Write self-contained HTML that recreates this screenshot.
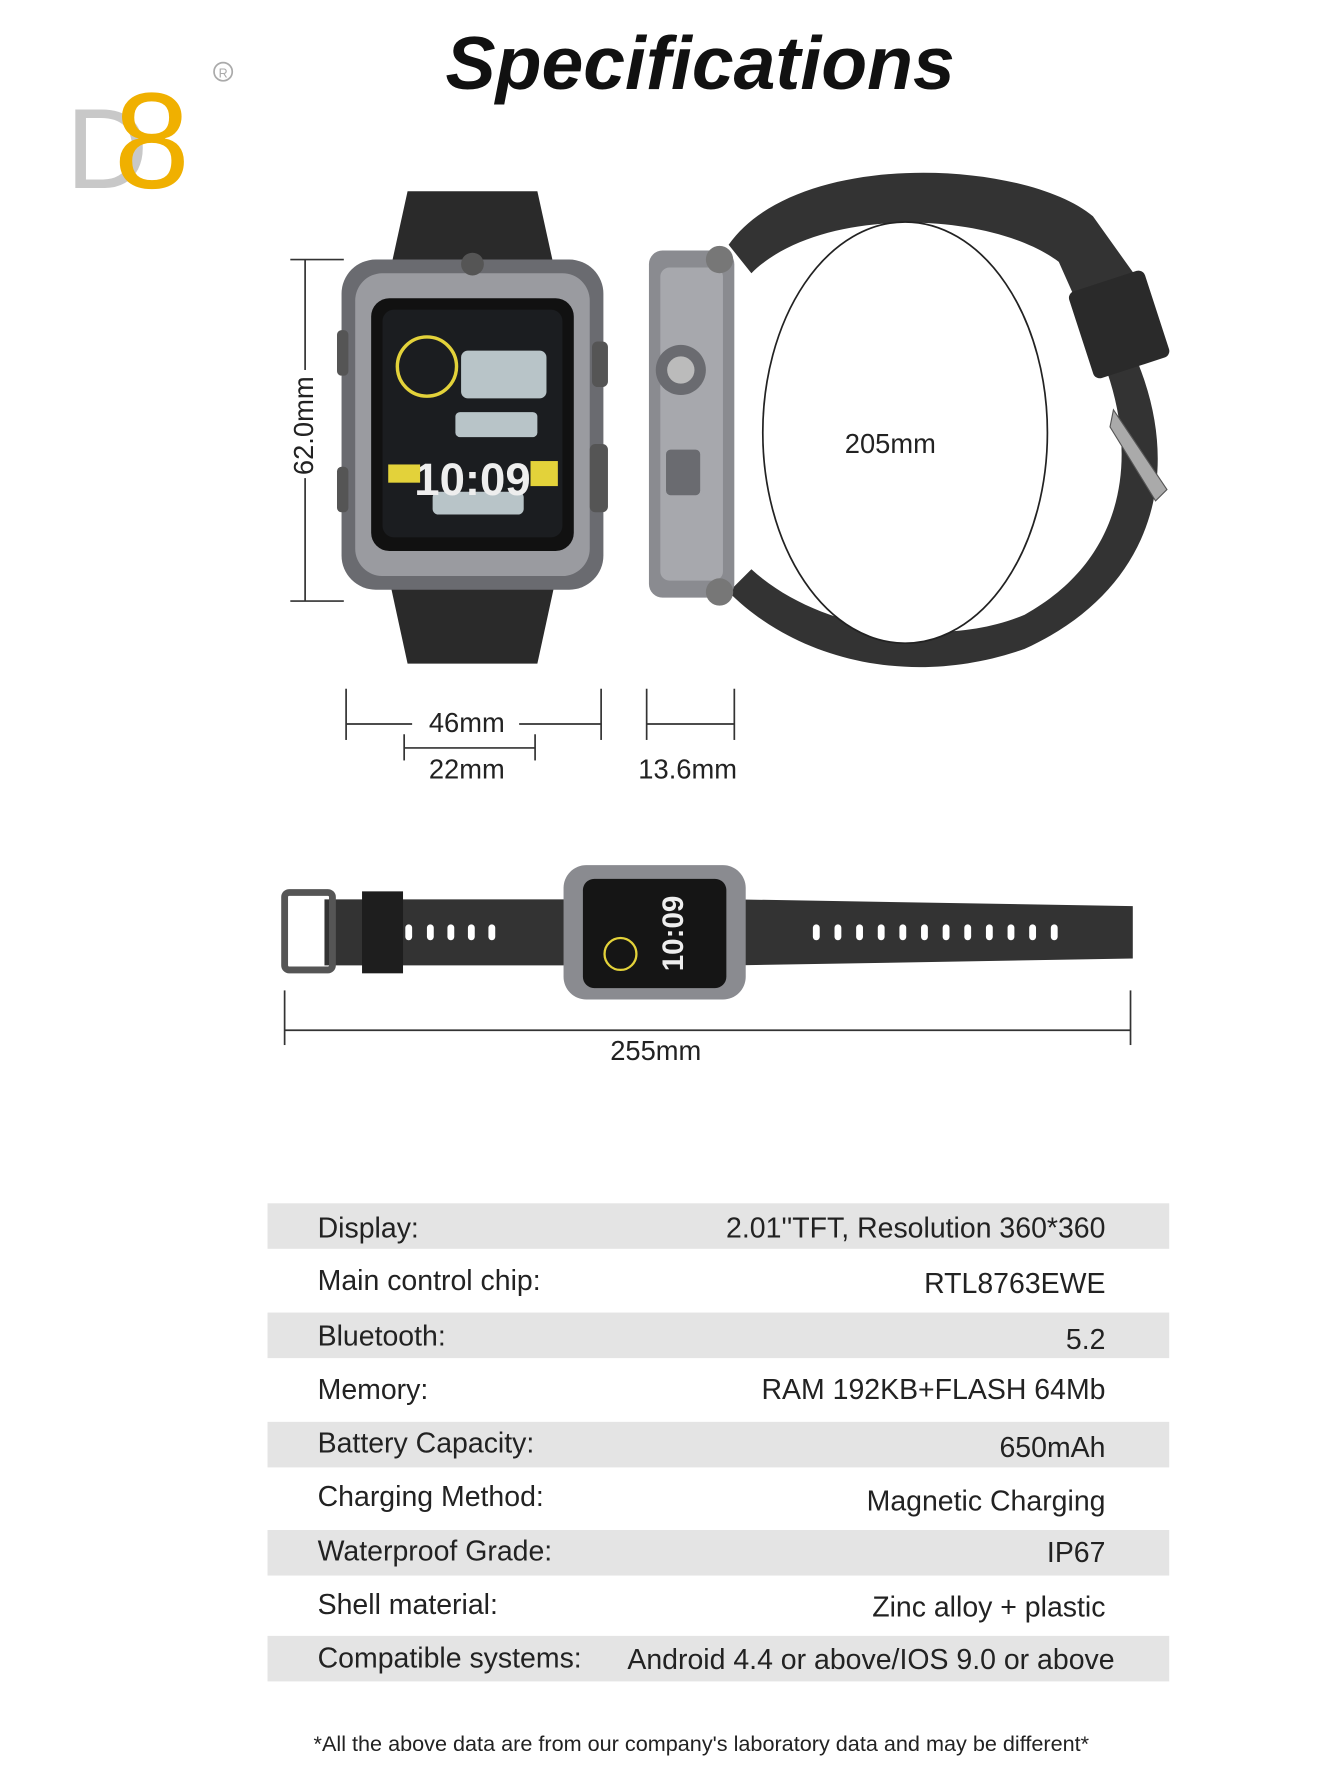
<!DOCTYPE html>
<html><head><meta charset="utf-8"><style>
html,body{margin:0;padding:0;background:#fff;}
svg{display:block;}
text{font-family:"Liberation Sans",sans-serif;}
</style></head><body>
<svg width="1340" height="1785" viewBox="0 0 1177 1568" preserveAspectRatio="none" xmlns="http://www.w3.org/2000/svg">
<rect width="1200" height="1600" fill="#fff"/>
<!-- Title -->
<text x="615" y="78" font-size="66" font-style="italic" font-weight="bold" text-anchor="middle" fill="#111">Specifications</text>
<!-- Logo -->
<text x="58" y="165" font-size="100" font-family="Liberation Serif" fill="#c8c8c8">D</text>
<text x="100" y="165" font-size="120" font-family="Liberation Serif" fill="#f0b000">8</text>
<circle cx="196" cy="63" r="8" fill="none" stroke="#aaa" stroke-width="1.5"/>
<text x="196" y="68" font-size="11" text-anchor="middle" fill="#aaa">R</text>

<!-- Front watch -->
<path d="M358 168 L472 168 L490 250 L340 250 Z" fill="#2a2a2a"/>
<path d="M340 500 L490 500 L472 583 L358 583 Z" fill="#2a2a2a"/>
<rect x="300" y="228" width="230" height="290" rx="30" fill="#6a6b70"/>
<rect x="312" y="240" width="206" height="266" rx="24" fill="#9a9ba0"/>
<rect x="326" y="262" width="178" height="222" rx="16" fill="#111"/>
<rect x="336" y="272" width="158" height="200" rx="10" fill="#1b1d20"/>
<circle cx="375" cy="322" r="26" fill="none" stroke="#e3d23a" stroke-width="3"/>
<rect x="405" y="308" width="75" height="42" rx="6" fill="#b8c4c8"/>
<rect x="400" y="362" width="72" height="22" rx="4" fill="#b8c4c8"/>
<rect x="380" y="432" width="80" height="20" rx="5" fill="#b8c4c8"/>
<text x="415" y="435" font-size="40" font-weight="bold" text-anchor="middle" fill="#eee">10:09</text>
<rect x="341" y="408" width="28" height="16" fill="#e3d23a"/>
<rect x="466" y="405" width="24" height="22" fill="#e3d23a"/>
<circle cx="415" cy="232" r="10" fill="#555"/>
<rect x="520" y="300" width="14" height="40" rx="5" fill="#555"/>
<rect x="518" y="390" width="16" height="60" rx="5" fill="#555"/>
<rect x="296" y="290" width="10" height="40" rx="4" fill="#555"/>
<rect x="296" y="410" width="10" height="40" rx="4" fill="#555"/>

<!-- 62mm dimension -->
<line x1="268" y1="228" x2="268" y2="528" stroke="#333" stroke-width="1.5"/>
<line x1="255" y1="228" x2="302" y2="228" stroke="#333" stroke-width="1.5"/>
<line x1="255" y1="528" x2="302" y2="528" stroke="#333" stroke-width="1.5"/>
<rect x="252" y="325" width="30" height="95" fill="#fff"/>
<text transform="translate(275,374) rotate(-90)" font-size="24" text-anchor="middle" fill="#222">62.0mm</text>

<!-- Side watch and band -->
<path d="M640 215 C700 130 900 140 960 190 L1010 260 L1000 320 C1040 420 1010 520 900 570 C800 605 700 580 640 520 L660 500 C720 555 830 570 900 540 C990 490 1000 400 970 320 L930 230 C870 185 720 180 660 240 Z" fill="#333"/>
<ellipse cx="795" cy="380" rx="125" ry="185" fill="#fff" stroke="#222" stroke-width="1.5"/>
<rect x="570" y="220" width="75" height="305" rx="12" fill="#8a8b90"/>
<rect x="580" y="235" width="55" height="275" rx="8" fill="#a7a8ad"/>
<circle cx="598" cy="325" r="22" fill="#6a6b70"/><circle cx="598" cy="325" r="12" fill="#bbb"/>
<rect x="585" y="395" width="30" height="40" rx="4" fill="#6a6b70"/>
<circle cx="632" cy="228" r="12" fill="#777"/><circle cx="632" cy="520" r="12" fill="#777"/>
<rect x="948" y="245" width="70" height="80" rx="6" fill="#2a2a2a" transform="rotate(-18 983 285)"/>
<path d="M978 360 L1025 430 L1015 440 L975 375 Z" fill="#aaa" stroke="#555"/>
<text x="782" y="398" font-size="24" text-anchor="middle" fill="#222">205mm</text>

<!-- 46 / 22 / 13.6 dims -->
<g stroke="#333" stroke-width="1.5">
<line x1="304" y1="605" x2="304" y2="650"/><line x1="528" y1="605" x2="528" y2="650"/>
<line x1="304" y1="636" x2="362" y2="636"/><line x1="456" y1="636" x2="528" y2="636"/>
<line x1="355" y1="645" x2="355" y2="668"/><line x1="470" y1="645" x2="470" y2="668"/>
<line x1="355" y1="657" x2="470" y2="657"/>
<line x1="568" y1="605" x2="568" y2="650"/><line x1="645" y1="605" x2="645" y2="650"/>
<line x1="568" y1="636" x2="645" y2="636"/>
</g>
<text x="410" y="643" font-size="24" text-anchor="middle" fill="#222">46mm</text>
<text x="410" y="684" font-size="24" text-anchor="middle" fill="#222">22mm</text>
<text x="604" y="684" font-size="24" text-anchor="middle" fill="#222">13.6mm</text>

<!-- Flat watch -->
<path d="M285 790 L505 790 L505 848 L285 848 Z" fill="#333"/>
<path d="M645 790 L995 796 L995 842 L645 848 Z" fill="#333"/>
<rect x="250" y="784" width="42" height="68" rx="4" fill="none" stroke="#555" stroke-width="6"/>
<rect x="318" y="783" width="36" height="72" fill="#1e1e1e"/>
<g fill="#fff">
<rect x="356" y="812" width="6" height="14" rx="3"/><rect x="375" y="812" width="6" height="14" rx="3"/><rect x="393" y="812" width="6" height="14" rx="3"/><rect x="411" y="812" width="6" height="14" rx="3"/><rect x="429" y="812" width="6" height="14" rx="3"/>
<rect x="714" y="812" width="6" height="14" rx="3"/><rect x="733" y="812" width="6" height="14" rx="3"/><rect x="752" y="812" width="6" height="14" rx="3"/><rect x="771" y="812" width="6" height="14" rx="3"/><rect x="790" y="812" width="6" height="14" rx="3"/><rect x="809" y="812" width="6" height="14" rx="3"/><rect x="828" y="812" width="6" height="14" rx="3"/><rect x="847" y="812" width="6" height="14" rx="3"/><rect x="866" y="812" width="6" height="14" rx="3"/><rect x="885" y="812" width="6" height="14" rx="3"/><rect x="904" y="812" width="6" height="14" rx="3"/><rect x="923" y="812" width="6" height="14" rx="3"/>
</g>
<rect x="495" y="760" width="160" height="118" rx="20" fill="#8a8b90"/>
<rect x="512" y="772" width="126" height="96" rx="10" fill="#151515"/>
<text transform="translate(600,820) rotate(-90)" font-size="26" font-weight="bold" text-anchor="middle" fill="#eee">10:09</text>
<circle cx="545" cy="838" r="14" fill="none" stroke="#e3d23a" stroke-width="2"/>

<!-- 255mm -->
<g stroke="#333" stroke-width="1.5">
<line x1="250" y1="870" x2="250" y2="918"/><line x1="993" y1="870" x2="993" y2="918"/>
<line x1="250" y1="905" x2="993" y2="905"/>
</g>
<text x="576" y="931" font-size="24" text-anchor="middle" fill="#222">255mm</text>

<!-- Table -->
<g fill="#e4e4e4">
<rect x="235" y="1057" width="792" height="40"/>
<rect x="235" y="1153" width="792" height="40"/>
<rect x="235" y="1249" width="792" height="40"/>
<rect x="235" y="1344" width="792" height="40"/>
<rect x="235" y="1437" width="792" height="40"/>
</g>
<g font-size="25" fill="#222">
<text x="279" y="1087">Display:</text>
<text x="279" y="1133">Main control chip:</text>
<text x="279" y="1182">Bluetooth:</text>
<text x="279" y="1229">Memory:</text>
<text x="279" y="1276">Battery Capacity:</text>
<text x="279" y="1323">Charging Method:</text>
<text x="279" y="1371">Waterproof Grade:</text>
<text x="279" y="1418">Shell material:</text>
<text x="279" y="1465">Compatible systems:</text>
</g>
<g font-size="25" fill="#222" text-anchor="end">
<text x="971" y="1087">2.01''TFT, Resolution 360*360</text>
<text x="971" y="1136">RTL8763EWE</text>
<text x="971" y="1185">5.2</text>
<text x="971" y="1229">RAM 192KB+FLASH 64Mb</text>
<text x="971" y="1280">650mAh</text>
<text x="971" y="1327">Magnetic Charging</text>
<text x="971" y="1372">IP67</text>
<text x="971" y="1420">Zinc alloy + plastic</text>
<text x="979" y="1466">Android 4.4 or above/IOS 9.0 or above</text>
</g>
<text x="616" y="1538" font-size="19" text-anchor="middle" fill="#222">*All the above data are from our company's laboratory data and may be different*</text>
</svg>
</body></html>
